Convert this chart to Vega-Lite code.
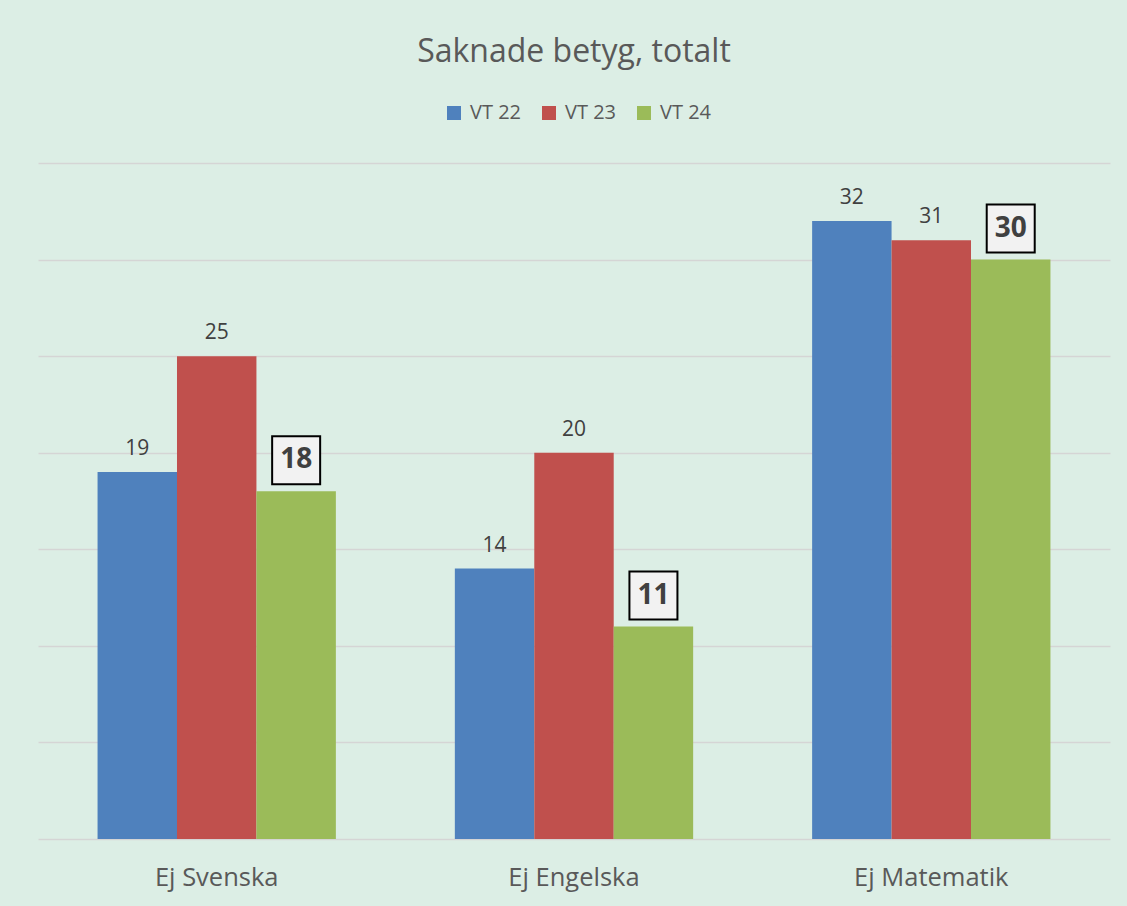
{
  "$schema": "https://vega.github.io/schema/vega-lite/v6.json",
  "width": 1072,
  "height": 676,
  "autosize": {"type": "none"},
  "padding": {"left": 38, "top": 163, "right": 17, "bottom": 67},
  "background": "#DCEEE5",
  "config": {"view": {"stroke": null}, "font": "Open Sans"},
  "title": {
    "text": "Saknade betyg, totalt",
    "fontSize": 32,
    "font": "Open Sans",
    "fontWeight": "normal",
    "color": "#595959",
    "anchor": "middle",
    "frame": "group",
    "offset": 34
  },
  "data": {
    "values": [
      {"amne": "Ej Svenska", "period": "VT 22", "antal": 19},
      {"amne": "Ej Svenska", "period": "VT 23", "antal": 25},
      {"amne": "Ej Svenska", "period": "VT 24", "antal": 18},
      {"amne": "Ej Engelska", "period": "VT 22", "antal": 14},
      {"amne": "Ej Engelska", "period": "VT 23", "antal": 20},
      {"amne": "Ej Engelska", "period": "VT 24", "antal": 11},
      {"amne": "Ej Matematik", "period": "VT 22", "antal": 32},
      {"amne": "Ej Matematik", "period": "VT 23", "antal": 31},
      {"amne": "Ej Matematik", "period": "VT 24", "antal": 30}
    ]
  },
  "encoding": {
    "x": {
      "field": "amne",
      "type": "nominal",
      "sort": ["Ej Svenska", "Ej Engelska", "Ej Matematik"],
      "scale": {"paddingInner": 0.333, "paddingOuter": 0.1667},
      "axis": {
        "title": null,
        "ticks": false,
        "domain": false,
        "labelAngle": 0,
        "labelFontSize": 25.5,
        "labelColor": "#595959",
        "labelPadding": 26,
        "labelFont": "Open Sans"
      }
    },
    "xOffset": {
      "field": "period",
      "type": "nominal",
      "sort": ["VT 22", "VT 23", "VT 24"],
      "scale": {"paddingInner": 0, "paddingOuter": 0}
    },
    "y": {
      "field": "antal",
      "type": "quantitative",
      "scale": {"domain": [0, 35], "nice": false},
      "axis": {
        "title": null,
        "labels": false,
        "ticks": false,
        "domain": false,
        "grid": true,
        "values": [0, 5, 10, 15, 20, 25, 30, 35],
        "gridColor": "#D5D5D5",
        "gridWidth": 1.5
      }
    }
  },
  "layer": [
    {
      "mark": {"type": "bar"},
      "encoding": {
        "color": {
          "field": "period",
          "type": "nominal",
          "scale": {"domain": ["VT 22", "VT 23", "VT 24"], "range": ["#4F81BD", "#C0504D", "#9BBB59"]},
          "legend": {
            "title": null,
            "orient": "none",
            "direction": "horizontal",
            "legendX": 406,
            "legendY": -60,
            "symbolType": "square",
            "symbolSize": 196,
            "symbolStrokeWidth": 0,
            "labelFontSize": 20,
            "labelColor": "#595959",
            "labelFont": "Open Sans",
            "labelOffset": 6,
            "columnPadding": 17
          }
        }
      }
    },
    {
      "transform": [{"filter": "datum.period !== 'VT 24'"}],
      "mark": {"type": "text", "baseline": "alphabetic", "yOffset": -17, "fontSize": 21, "color": "#404040", "font": "Open Sans"},
      "encoding": {"text": {"field": "antal", "type": "quantitative"}}
    },
    {
      "transform": [{"filter": "datum.period === 'VT 24'"}],
      "mark": {"type": "point", "shape": "square", "size": 2304, "filled": true, "fill": "#F2F2F2", "stroke": "#000000", "strokeWidth": 2, "opacity": 1, "yOffset": -31}
    },
    {
      "transform": [{"filter": "datum.period === 'VT 24'"}],
      "mark": {"type": "text", "baseline": "middle", "yOffset": -31, "fontSize": 28, "fontWeight": "bold", "color": "#404040", "font": "Open Sans"},
      "encoding": {"text": {"field": "antal", "type": "quantitative"}}
    }
  ]
}
